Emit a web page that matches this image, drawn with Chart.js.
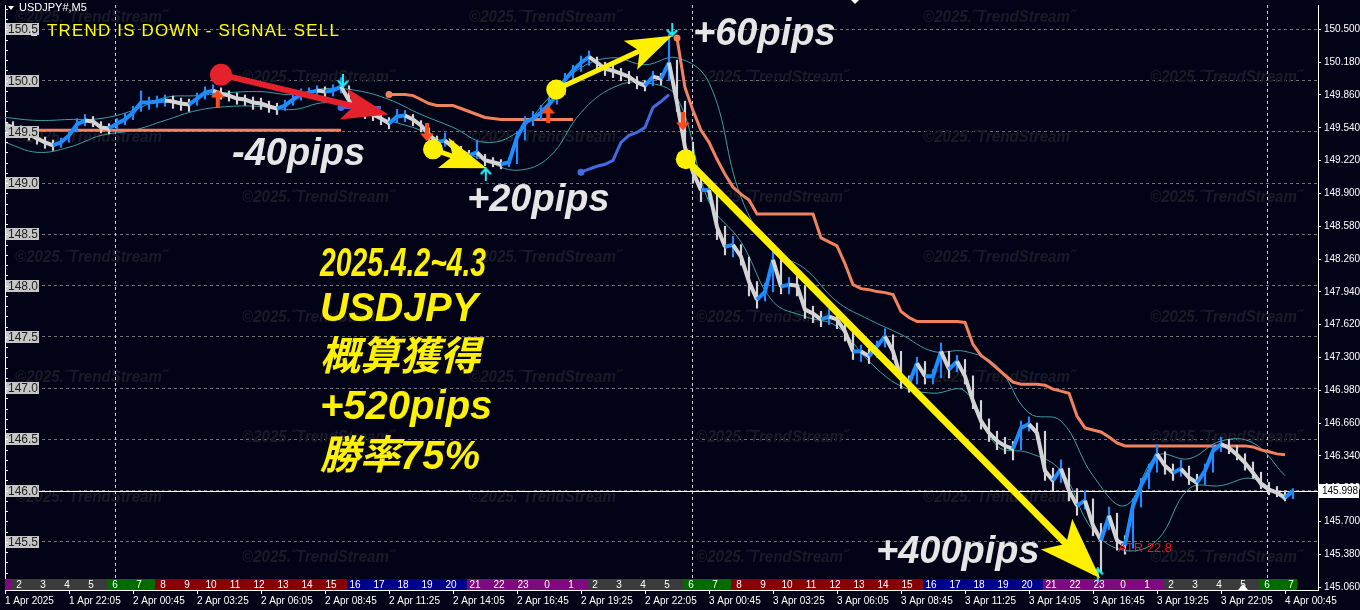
<!DOCTYPE html>
<html>
<head>
<meta charset="utf-8">
<title>USDJPY M5</title>
<script src="https://cdn.jsdelivr.net/npm/chart.js@4.4.1/dist/chart.umd.min.js"></script>
<style>
  html, body { margin: 0; padding: 0; background: #030318; }
  #wrap { width: 1360px; height: 610px; position: relative; }
</style>
</head>
<body>
<div id="wrap"><canvas id="chart"></canvas></div>
<script>
"use strict"

// time axis: one label every 32 bars (8 points of 4 bars each)
const timeLabels = ['1 Apr 2025', '1 Apr 22:05', '2 Apr 00:45', '2 Apr 03:25', '2 Apr 06:05', '2 Apr 08:45',
    '2 Apr 11:25', '2 Apr 14:05', '2 Apr 16:45', '2 Apr 19:25', '2 Apr 22:05', '3 Apr 00:45', '3 Apr 03:25',
    '3 Apr 06:05', '3 Apr 08:45', '3 Apr 11:25', '3 Apr 14:05', '3 Apr 16:45', '3 Apr 19:25', '3 Apr 22:05',
    '4 Apr 00:45'];
const labelStep = 8;

// session strip (hour of day, each cell = 3 points)
const hourCells = [1, 2, 3, 4, 5, 6, 7, 8, 9, 10, 11, 12, 13, 14, 15, 16, 17, 18, 19, 20, 21, 22, 23,
    0, 1, 2, 3, 4, 5, 6, 7, 8, 9, 10, 11, 12, 13, 14, 15, 16, 17, 18, 19, 20, 21, 22, 23,
    0, 1, 2, 3, 4, 5, 6, 7];
const hourStart = -2.25;
const daySeparators = [13.75, 85.875, 157.75];

// price, one point per 20 minutes
const closes = [
    149.573, 149.544, 149.515, 149.476, 149.437, 149.398, 149.369, 149.398, 149.466, 149.573,
    149.612, 149.602, 149.544, 149.534, 149.583, 149.621, 149.689, 149.786, 149.786, 149.796,
    149.806, 149.796, 149.777, 149.767, 149.825, 149.883, 149.903, 149.874, 149.854, 149.825,
    149.816, 149.786, 149.777, 149.748, 149.728, 149.757, 149.816, 149.864, 149.883, 149.903,
    149.893, 149.903, 149.942, 149.806, 149.728, 149.689, 149.670, 149.631, 149.583, 149.650,
    149.660, 149.621, 149.563, 149.476, 149.398, 149.417, 149.350, 149.311, 149.272, 149.301,
    149.223, 149.204, 149.184, 149.204, 149.447, 149.592, 149.631, 149.689, 149.767, 149.864,
    150.010, 150.097, 150.175, 150.233, 150.175, 150.117, 150.097, 150.068, 150.039, 149.981,
    149.951, 150.039, 150.019, 150.175, 149.786, 149.350, 149.107, 148.932, 148.932, 148.573,
    148.379, 148.398, 148.282, 148.039, 147.864, 147.942, 148.252, 147.990, 148.010, 148.000,
    147.767, 147.728, 147.670, 147.699, 147.670, 147.553, 147.359, 147.359, 147.311, 147.408,
    147.505, 147.359, 147.097, 147.049, 147.243, 147.117, 147.117, 147.359, 147.184, 147.262,
    147.117, 146.874, 146.680, 146.563, 146.485, 146.437, 146.408, 146.612, 146.650, 146.563,
    146.194, 146.097, 146.214, 146.000, 145.854, 145.903, 145.660, 145.515, 145.757, 145.515,
    145.466, 145.854, 146.049, 146.194, 146.359, 146.243, 146.175, 146.214, 146.126, 146.078,
    146.194, 146.388, 146.456, 146.417, 146.350, 146.272, 146.175, 146.068, 146.010, 145.981,
    145.932, 145.998
];
const highs = [
    149.62, 149.60, 149.56, 149.52, 149.48, 149.45, 149.42, 149.44, 149.51, 149.63,
    149.67, 149.65, 149.60, 149.58, 149.63, 149.68, 149.75, 149.90, 149.84, 149.85,
    149.86, 149.85, 149.83, 149.82, 149.88, 149.94, 149.96, 149.93, 149.90, 149.88,
    149.86, 149.84, 149.83, 149.80, 149.78, 149.81, 149.87, 149.92, 149.93, 149.95,
    149.94, 149.96, 150.03, 149.95, 149.79, 149.74, 149.72, 149.69, 149.64, 149.72,
    149.71, 149.67, 149.61, 149.54, 149.46, 149.49, 149.41, 149.36, 149.32, 149.42,
    149.28, 149.25, 149.23, 149.25, 149.50, 149.65, 149.70, 149.76, 149.84, 149.92,
    150.07, 150.15, 150.24, 150.29, 150.23, 150.18, 150.15, 150.12, 150.09, 150.04,
    150.00, 150.09, 150.07, 150.45, 150.20, 149.80, 149.40, 149.10, 149.02, 148.93,
    148.58, 148.48, 148.40, 148.28, 148.04, 148.02, 148.33, 148.26, 148.08, 148.09,
    148.00, 147.80, 147.75, 147.77, 147.74, 147.68, 147.56, 147.42, 147.38, 147.46,
    147.58, 147.52, 147.36, 147.12, 147.30, 147.26, 147.18, 147.44, 147.36, 147.32,
    147.28, 147.12, 146.88, 146.70, 146.58, 146.52, 146.48, 146.68, 146.72, 146.66,
    146.58, 146.22, 146.30, 146.22, 146.02, 146.00, 145.92, 145.68, 145.84, 145.78,
    145.56, 145.92, 146.12, 146.26, 146.45, 146.38, 146.26, 146.30, 146.24, 146.16,
    146.26, 146.45, 146.52, 146.50, 146.44, 146.36, 146.28, 146.18, 146.08, 146.04,
    146.00, 146.02
];
const lows = [
    149.52, 149.50, 149.46, 149.42, 149.38, 149.34, 149.32, 149.35, 149.40, 149.50,
    149.56, 149.55, 149.49, 149.48, 149.53, 149.57, 149.62, 149.70, 149.72, 149.74,
    149.75, 149.73, 149.71, 149.70, 149.76, 149.82, 149.85, 149.82, 149.80, 149.77,
    149.76, 149.72, 149.72, 149.69, 149.67, 149.71, 149.76, 149.81, 149.83, 149.85,
    149.84, 149.85, 149.88, 149.75, 149.67, 149.63, 149.61, 149.57, 149.53, 149.59,
    149.60, 149.56, 149.50, 149.42, 149.34, 149.36, 149.29, 149.25, 149.22, 149.24,
    149.17, 149.16, 149.14, 149.16, 149.19, 149.42, 149.56, 149.62, 149.68, 149.77,
    149.86, 150.00, 150.09, 150.15, 150.11, 150.05, 150.03, 150.00, 149.97, 149.92,
    149.90, 149.95, 149.96, 150.00, 149.70, 149.25, 149.00, 148.82, 148.84, 148.45,
    148.30, 148.28, 148.20, 147.90, 147.78, 147.85, 147.94, 147.92, 147.92, 147.90,
    147.68, 147.64, 147.60, 147.62, 147.58, 147.46, 147.28, 147.26, 147.24, 147.30,
    147.40, 147.28, 147.00, 146.96, 147.04, 147.04, 147.04, 147.10, 147.10, 147.16,
    147.04, 146.80, 146.60, 146.48, 146.40, 146.36, 146.30, 146.40, 146.58, 146.50,
    146.10, 146.00, 146.08, 145.90, 145.76, 145.82, 145.56, 145.20, 145.62, 145.42,
    145.38, 145.44, 145.84, 146.02, 146.18, 146.16, 146.10, 146.14, 146.06, 146.00,
    146.06, 146.18, 146.38, 146.36, 146.30, 146.20, 146.12, 146.02, 145.96, 145.94,
    145.90, 145.92
];

// envelope bands, one point every 4 price points
const bandStep = 4;
const bandUpper = [
    149.641, 149.612, 149.621, 149.631, 149.709, 149.835, 149.854, 149.883, 149.893, 149.864,
    149.922, 149.903, 149.816, 149.670, 149.544, 149.398, 149.495, 149.835, 150.126, 150.223,
    150.155, 150.223, 149.981, 148.864, 148.350, 148.165, 147.845, 147.670, 147.524, 147.359,
    147.359, 147.214, 146.757, 146.680, 146.146, 145.854, 146.340, 146.311, 146.485, 146.466,
    146.146
];
const bandLower = [
    149.398, 149.301, 149.350, 149.466, 149.515, 149.612, 149.709, 149.748, 149.748, 149.718,
    149.786, 149.738, 149.612, 149.515, 149.350, 149.223, 149.126, 149.252, 149.689, 149.932,
    149.981, 149.835, 148.816, 148.427, 147.845, 147.699, 147.602, 147.262, 147.019, 146.951,
    146.971, 146.437, 146.369, 146.194, 145.612, 145.417, 145.515, 146.019, 146.049, 146.117,
    145.903
];

// trailing stop lines
const levelPrice = 149.515;
const levelEnd = 42;
const buyStop1Start = 42;
const buyStop1 = [149.738, 149.738, 149.738, 149.738, 149.738, 149.738];
const sellStop1Start = 48;
const sellStop1 = [149.864, 149.864, 149.864, 149.854, 149.816, 149.777, 149.757, 149.757, 149.757, 149.728,
    149.699, 149.670, 149.641, 149.631, 149.621, 149.621, 149.621, 149.621, 149.621, 149.621,
    149.621, 149.621, 149.621, 149.621];
const buyStop2Start = 72;
const buyStop2 = [149.107, 149.136, 149.165, 149.184, 149.223, 149.398, 149.466, 149.495, 149.544, 149.738,
    149.796, 149.864];
const sellStop2Start = 84;
const sellStop2 = [
    150.417, 149.932, 149.709, 149.515, 149.398, 149.233, 149.087, 148.961, 148.893, 148.835,
    148.699, 148.699, 148.699, 148.699, 148.699, 148.699, 148.699, 148.699, 148.466, 148.427,
    148.388, 148.214, 148.010, 147.971, 147.961, 147.942, 147.932, 147.913, 147.748, 147.689,
    147.650, 147.650, 147.650, 147.650, 147.650, 147.650, 147.641, 147.427, 147.320, 147.262,
    147.194, 147.126, 147.058, 147.039, 147.039, 147.039, 147.029, 146.990, 146.971, 146.951,
    146.728, 146.612, 146.592, 146.573, 146.524, 146.466, 146.437, 146.437, 146.437, 146.437,
    146.437, 146.437, 146.437, 146.437, 146.437, 146.437, 146.437, 146.437, 146.437, 146.437,
    146.437, 146.437, 146.427, 146.398, 146.379, 146.359, 146.350
];

// signal arrows
const buyArrowIdx = [26.6, 67.9];
const buyArrowPrice = [149.825, 149.670];
const sellArrowIdx = [52.75, 84.75];
const sellArrowPrice = [149.495, 149.602];
const topMarkIdx = [42.25, 83.4];
const topMarkPrice = [150.000, 150.495];
const bottomMarkIdx = [60.1, 136.6];
const bottomMarkPrice = [149.087, 145.184];

// hand drawn trades
const entryIdx = [27.0, 53.5, 68.9, 85.1];
const entryPrice = [150.058, 149.330, 149.913, 149.233];
const exitIdx = [47.9, 60.2, 83.4, 136.9];
const exitPrice = [149.670, 149.146, 150.437, 145.146];
const tradeColors = ['#e5212b', '#fff000', '#fff000', '#fff000'];

// axes
const priceTicks = [150.50, 150.18, 149.86, 149.54, 149.22, 148.90, 148.58, 148.26, 147.94, 147.62,
    147.30, 146.98, 146.66, 146.34, 146.02, 145.70, 145.38, 145.06];
const gridLevels = [150.5, 150.0, 149.5, 149.0, 148.5, 148.0, 147.5, 147.0, 146.5, 146.0, 145.5];
const lastPrice = 145.998;

const BG = '#030318';
const UP = '#1e8cff';
const DOWN = '#d4d4d4';
const SELLSTOP = '#f2825e';
const BUYSTOP = '#4569e0';
const BAND = '#3c9f9f';
const FONT = '"Liberation Sans", Arial, sans-serif';

Chart.defaults.font.family = FONT;

function hourColor(h) {
    if (h >= 2 && h <= 5) return '#3b3b3b';
    if (h === 6 || h === 7) return '#006b00';
    if (h >= 8 && h <= 15) return '#880000';
    if (h >= 16 && h <= 20) return '#000088';
    return '#7e0a80';
}

function arrowImage(color, up, solid) {
    const c = document.createElement('canvas');
    const w = solid ? 14 : 12, h = solid ? 18 : 14;
    c.width = w; c.height = h;
    const g = c.getContext('2d');
    g.fillStyle = color; g.strokeStyle = color;
    if (!up) { g.translate(0, h); g.scale(1, -1); }
    if (solid) {
        g.beginPath(); g.moveTo(w / 2, 0); g.lineTo(w, 8); g.lineTo(0, 8); g.closePath(); g.fill();
        g.fillRect(w / 2 - 2, 7, 4, h - 7);
    } else {
        g.lineWidth = 2.5;
        g.beginPath(); g.moveTo(1, 7); g.lineTo(w / 2, 1.5); g.lineTo(w - 1, 7); g.stroke();
        g.fillRect(w / 2 - 1, 1, 2, h - 1);
    }
    return c;
}

function stopData(start, values) {
    return values.map((v, i) => ({x: start + i, y: v}));
}

function dotFirst(ctx) {
    return ctx.dataIndex === 0 ? 3.5 : 0;
}

function drawBigArrow(ctx, x0, y0, x1, y1, color, shaft, headLen, headW) {
    const ang = Math.atan2(y1 - y0, x1 - x0);
    const cs = Math.cos(ang), sn = Math.sin(ang);
    const bx = x1 - cs * headLen, by = y1 - sn * headLen;
    ctx.strokeStyle = color;
    ctx.fillStyle = color;
    ctx.lineWidth = shaft;
    ctx.lineCap = 'butt';
    ctx.beginPath();
    ctx.moveTo(x0, y0);
    ctx.lineTo(bx + cs * headLen * 0.3, by + sn * headLen * 0.3);
    ctx.stroke();
    const nx = -sn, ny = cs;
    ctx.beginPath();
    ctx.moveTo(x1, y1);
    ctx.lineTo(bx + nx * headW / 2, by + ny * headW / 2);
    ctx.lineTo(bx + cs * headLen * 0.22, by + sn * headLen * 0.22);
    ctx.lineTo(bx - nx * headW / 2, by - ny * headW / 2);
    ctx.closePath();
    ctx.fill();
}

const watermark = '\u00A92025.\u02DDTrendStream\u02DD';

const chartPlugin = {
    id: 'mt4look',
    beforeDraw(chart) {
        const ctx = chart.ctx;
        ctx.save();
        ctx.fillStyle = BG;
        ctx.fillRect(0, 0, chart.width, chart.height);
        ctx.restore();
    },
    beforeDatasetsDraw(chart) {
        const {ctx, chartArea: a, scales: {x, y}} = chart;
        ctx.save();
        ctx.beginPath();
        ctx.rect(a.left, a.top, a.right - a.left, a.bottom - a.top);
        ctx.clip();

        // watermarks
        ctx.font = 'italic bold 16px ' + FONT;
        ctx.fillStyle = '#1b1b27';
        ctx.textBaseline = 'middle';
        ctx.textAlign = 'left';
        for (let r = 0; r < 10; r++) {
            for (let c = 0; c < 6; c++) {
                if ((r + c) % 2 === 0) ctx.fillText(watermark, 15 + c * 227, 18 + r * 60, 152);
            }
        }

        // day separators
        ctx.strokeStyle = '#d0d0d0';
        ctx.lineWidth = 1;
        ctx.setLineDash([3, 3]);
        daySeparators.forEach(v => {
            const px = Math.round(x.getPixelForValue(v)) + 0.5;
            ctx.beginPath(); ctx.moveTo(px, a.top); ctx.lineTo(px, a.bottom); ctx.stroke();
        });
        ctx.setLineDash([]);

        // bid line
        const py = Math.round(y.getPixelForValue(lastPrice)) + 0.5;
        ctx.strokeStyle = '#ffffff';
        ctx.beginPath(); ctx.moveTo(a.left, py); ctx.lineTo(a.right, py); ctx.stroke();

        // session strip
        const lastIdx = closes.length - 0.5;
        ctx.font = '10px ' + FONT;
        ctx.textAlign = 'center';
        hourCells.forEach((h, i) => {
            const s = Math.max(hourStart + 3 * i, 0);
            const e = Math.min(hourStart + 3 * i + 3, lastIdx);
            if (e <= s) return;
            const x0 = x.getPixelForValue(s), x1 = x.getPixelForValue(e);
            ctx.fillStyle = hourColor(h);
            ctx.fillRect(x0, a.bottom - 11, x1 - x0, 11);
            const lx = hourStart + 3 * i + 1;
            if (lx >= 0 && lx < lastIdx) {
                ctx.fillStyle = '#ffffff';
                ctx.fillText(String(h), x.getPixelForValue(lx), a.bottom - 5);
            }
        });
        ctx.restore();
    },
    afterDatasetsDraw(chart) {
        const {ctx, chartArea: a, scales: {x, y}} = chart;
        ctx.save();
        ctx.beginPath();
        ctx.rect(a.left, a.top, a.right - a.left, a.bottom - a.top);
        ctx.clip();

        // trade arrows then circles
        entryIdx.forEach((v, i) => {
            const big = i === 3;
            drawBigArrow(ctx, x.getPixelForValue(v), y.getPixelForValue(entryPrice[i]),
                x.getPixelForValue(exitIdx[i]), y.getPixelForValue(exitPrice[i]),
                tradeColors[i], big ? 7 : (i === 0 ? 6 : 5), big ? 62 : 46, big ? 44 : 32);
        });
        entryIdx.forEach((v, i) => {
            ctx.fillStyle = tradeColors[i];
            ctx.beginPath();
            ctx.arc(x.getPixelForValue(v), y.getPixelForValue(entryPrice[i]), i === 0 ? 11 : 10, 0, Math.PI * 2);
            ctx.fill();
        });

        // white result labels
        ctx.textBaseline = 'middle';
        ctx.textAlign = 'left';
        ctx.fillStyle = '#e6e6e6';
        ctx.font = 'italic bold 38px ' + FONT;
        ctx.fillText('-40pips', 232, 155, 140);
        ctx.fillText('+20pips', 467, 201, 153);
        ctx.fillText('+60pips', 693, 35, 152);
        ctx.fillText('+400pips', 876, 553, 176);

        // yellow summary
        ctx.fillStyle = '#fff200';
        ctx.font = 'italic bold 40px ' + FONT + ', "Noto Sans CJK JP"';
        ctx.fillText('2025.4.2~4.3', 320, 265, 166);
        ctx.fillText('USDJPY', 320, 310, 158);
        ctx.fillText('概算獲得', 320, 359, 160);
        ctx.fillText('+520pips', 320, 408, 192);
        ctx.fillText('勝率75%', 320, 458, 178);

        // ATR
        ctx.fillStyle = '#e8141a';
        ctx.font = '13px ' + FONT;
        ctx.fillText('ATR 22.8', 1118, 548);
        ctx.restore();
    },
    afterDraw(chart) {
        const {ctx, chartArea: a, scales: {y}} = chart;
        ctx.save();

        // left price labels
        ctx.font = '12px ' + FONT;
        ctx.textBaseline = 'middle';
        ctx.textAlign = 'left';
        gridLevels.forEach(v => {
            const py = Math.round(y.getPixelForValue(v));
            ctx.fillStyle = '#c6c6c6';
            ctx.fillRect(a.left + 1, py - 6, 33, 12);
            ctx.fillStyle = '#1e1e1e';
            ctx.fillText(v.toFixed(1), a.left + 3, py + 0.5);
        });

        // left minor ticks
        ctx.strokeStyle = '#ffffff';
        ctx.lineWidth = 1;
        for (let p = 145.1; p < 150.75; p += 0.1) {
            const py = Math.round(y.getPixelForValue(p)) + 0.5;
            if (py < a.top || py > a.bottom - 12) continue;
            ctx.beginPath(); ctx.moveTo(a.left, py); ctx.lineTo(a.left + 3, py); ctx.stroke();
        }

        // current price box
        const py = Math.round(y.getPixelForValue(lastPrice));
        ctx.fillStyle = '#ffffff';
        ctx.fillRect(a.right + 1, py - 7, 40, 14);
        ctx.fillStyle = '#000000';
        ctx.font = '10px ' + FONT;
        ctx.fillText(lastPrice.toFixed(3), a.right + 4, py + 0.5);

        // header
        ctx.fillStyle = '#ffffff';
        ctx.font = '11px ' + FONT;
        ctx.beginPath(); ctx.moveTo(8, 6); ctx.lineTo(14, 6); ctx.lineTo(11, 10); ctx.closePath(); ctx.fill();
        ctx.fillText('USDJPY#,M5', 19, 8);

        // trend message
        ctx.fillStyle = '#ffff00';
        ctx.strokeStyle = '#ffff00';
        ctx.beginPath(); ctx.moveTo(31.5, 29); ctx.lineTo(31.5, 35.5); ctx.lineTo(37, 35.5); ctx.stroke();
        ctx.font = '17px ' + FONT;
        ctx.letterSpacing = '1.2px';
        ctx.fillText('TREND IS DOWN - SIGNAL SELL', 47, 31, 293);
        ctx.letterSpacing = '0px';

        // small markers
        ctx.fillStyle = '#ffffff';
        ctx.beginPath(); ctx.moveTo(1243, 584); ctx.lineTo(1248, 590); ctx.lineTo(1238, 590); ctx.closePath(); ctx.fill();
        ctx.beginPath(); ctx.moveTo(851, 0); ctx.lineTo(859, 0); ctx.lineTo(855, 4); ctx.closePath(); ctx.fill();
        ctx.restore();
    }
};

const priceData = closes.map((v, i) => ({x: i, y: v}));
const wickData = closes.map((v, i) => ({x: i, y: [lows[i], highs[i]]}));
const isUp = i => i > 0 && closes[i] >= closes[i - 1];

new Chart(document.getElementById('chart'), {
    type: 'line',
    data: {
        datasets: [
            {
                label: 'price', data: priceData, order: 1,
                borderWidth: 4, pointRadius: 0, borderColor: DOWN,
                segment: { borderColor: c => c.p1.parsed.y >= c.p0.parsed.y ? UP : DOWN }
            },
            {
                type: 'bar', label: 'range', data: wickData, order: 2,
                barThickness: 1.5, backgroundColor: c => isUp(c.dataIndex) ? UP : DOWN
            },
            {
                label: 'upper', data: bandUpper.map((v, j) => ({x: j * bandStep, y: v})), order: 6,
                borderColor: BAND, borderWidth: 1, pointRadius: 0, tension: 0.4
            },
            {
                label: 'lower', data: bandLower.map((v, j) => ({x: j * bandStep, y: v})), order: 6,
                borderColor: BAND, borderWidth: 1, pointRadius: 0, tension: 0.4
            },
            {
                label: 'level', data: [{x: 0, y: levelPrice}, {x: levelEnd, y: levelPrice}], order: 5,
                borderColor: SELLSTOP, borderWidth: 3, pointRadius: 0
            },
            {
                label: 'buy stop 1', data: stopData(buyStop1Start, buyStop1), order: 4,
                borderColor: BUYSTOP, backgroundColor: BUYSTOP, borderWidth: 3, pointRadius: dotFirst, pointBorderWidth: 0
            },
            {
                label: 'sell stop 1', data: stopData(sellStop1Start, sellStop1), order: 4,
                borderColor: SELLSTOP, backgroundColor: SELLSTOP, borderWidth: 3, pointRadius: dotFirst, pointBorderWidth: 0
            },
            {
                label: 'buy stop 2', data: stopData(buyStop2Start, buyStop2), order: 4,
                borderColor: BUYSTOP, backgroundColor: BUYSTOP, borderWidth: 3, pointRadius: dotFirst, pointBorderWidth: 0
            },
            {
                label: 'sell stop 2', data: stopData(sellStop2Start, sellStop2), order: 4,
                borderColor: SELLSTOP, backgroundColor: SELLSTOP, borderWidth: 3, pointRadius: dotFirst, pointBorderWidth: 0
            },
            {
                type: 'scatter', label: 'buy', order: 0,
                data: buyArrowIdx.map((v, i) => ({x: v, y: buyArrowPrice[i]})),
                pointStyle: arrowImage('#ff4a1c', true, true)
            },
            {
                type: 'scatter', label: 'sell', order: 0,
                data: sellArrowIdx.map((v, i) => ({x: v, y: sellArrowPrice[i]})),
                pointStyle: arrowImage('#ff4a1c', false, true)
            },
            {
                type: 'scatter', label: 'top', order: 0,
                data: topMarkIdx.map((v, i) => ({x: v, y: topMarkPrice[i]})),
                pointStyle: arrowImage('#22e8f0', false, false)
            },
            {
                type: 'scatter', label: 'bottom', order: 0,
                data: bottomMarkIdx.map((v, i) => ({x: v, y: bottomMarkPrice[i]})),
                pointStyle: arrowImage('#22e8f0', true, false)
            }
        ]
    },
    options: {
        responsive: true,
        maintainAspectRatio: false,
        animation: false,
        events: [],
        layout: { padding: { left: 5, top: 2, right: 0, bottom: 0 } },
        plugins: { legend: { display: false }, tooltip: { enabled: false } },
        scales: {
            x: {
                type: 'linear', min: 0, max: 164.125, offset: false,
                grid: { drawOnChartArea: false, offset: false, color: '#ffffff', tickLength: 4 },
                border: { color: '#ffffff' },
                ticks: {
                    color: '#ffffff', font: { size: 10 }, align: 'start', maxRotation: 0,
                    autoSkip: false, padding: 1,
                    callback: (v, i) => timeLabels[i]
                },
                afterBuildTicks: s => { s.ticks = timeLabels.map((_, i) => ({value: i * labelStep})); },
                afterFit: s => { s.height = 20; s.paddingLeft = 0; s.paddingRight = 0; }
            },
            y: {
                position: 'right', min: 145.031, max: 150.738,
                grid: { drawOnChartArea: false, color: '#ffffff', tickLength: 3 },
                border: { color: '#ffffff' },
                ticks: {
                    color: '#ffffff', font: { size: 10 }, padding: 3, autoSkip: false,
                    callback: v => Number(v).toFixed(3)
                },
                afterBuildTicks: s => { s.ticks = priceTicks.map(v => ({value: v})); },
                afterFit: s => { s.width = 42; s.paddingTop = 0; s.paddingBottom = 0; }
            },
            yl: {
                position: 'left', min: 145.031, max: 150.738,
                grid: { drawOnChartArea: true, drawTicks: false, color: '#737373' },
                border: { display: true, color: '#ffffff', dash: [3, 3] },
                ticks: { display: false },
                afterBuildTicks: s => { s.ticks = gridLevels.map(v => ({value: v})); },
                afterFit: s => { s.width = 0; s.paddingTop = 0; s.paddingBottom = 0; }
            }
        }
    },
    plugins: [chartPlugin]
});
</script>
</body>
</html>
